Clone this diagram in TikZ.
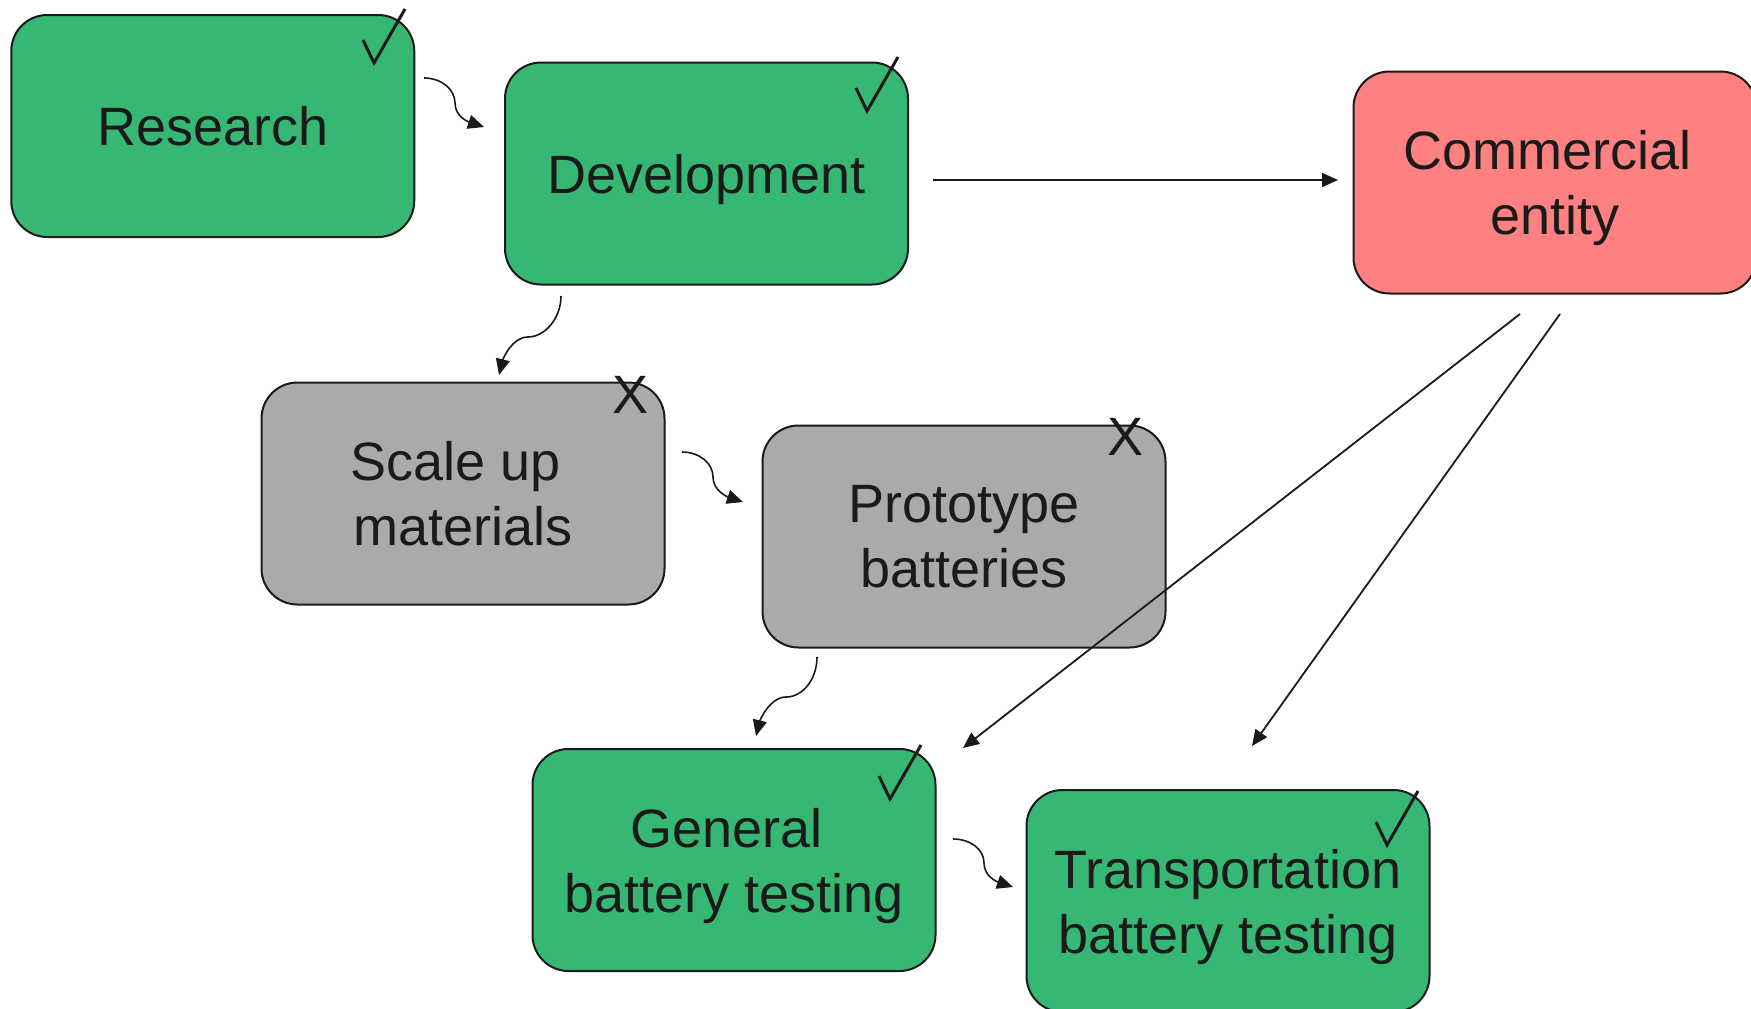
\documentclass[tikz,border=0pt]{standalone}
\usepackage{fontspec}
\setmainfont{Liberation Sans}
\usetikzlibrary{arrows.meta,calc}
\definecolor{boxgreen}{RGB}{54,184,116}
\definecolor{boxred}{RGB}{255,128,128}
\definecolor{boxgray}{RGB}{170,170,170}
\definecolor{inkc}{RGB}{26,26,26}
\newcommand\boxlines[1]{\vbox{\halign{\hfil##\hfil\cr#1\crcr}}}
\begin{document}
\begin{tikzpicture}[x=1pt,y=-1pt,
  stagebox/.style={draw=inkc, line width=2pt, rounded corners=36pt,
    minimum width=403pt, minimum height=222pt, inner sep=0pt, text=inkc,
    font=\fontsize{54}{65}\selectfont, text depth=0pt},
  donebox/.style={stagebox, fill=boxgreen},
  droppedbox/.style={stagebox, fill=boxgray},
  goalbox/.style={stagebox, fill=boxred},
  arrowline/.style={draw=inkc, line width=1.8pt, -{Triangle[length=16pt,width=14pt]}},
  wavyline/.style={arrowline, line width=1.6pt},
  crossmark/.style={text=inkc, inner sep=0pt, anchor=base, font=\fontsize{54}{65}\selectfont},
  checkmark/.pic={\draw[draw=inkc, line width=3pt, line join=miter] (0,0) -- (11,23) -- (42,-31);}
]
\useasboundingbox (0,0) rectangle (1751,1009);
\fill[white] (0,0) rectangle (1751,1009);

% boxes
\node[donebox] (research) at (212.75,126) {Research};
\node[donebox] (development) at (706.5,173.5) {Development};
\node[goalbox] (commercial) at (1555,182.5) {\boxlines{Commercial\ \cr entity}};
\node[droppedbox] (scaleup) at (463,493.5) {\boxlines{Scale up\ \cr materials}};
\node[droppedbox] (prototype) at (964,536.5) {\boxlines{Prototype\cr batteries}};
\node[donebox] (general) at (734,860) {\boxlines{General\ \cr battery testing}};
\node[donebox] (transport) at (1228,901) {\boxlines{Transportation\cr battery testing}};

% status marks
\pic at (363,40) {checkmark};
\pic at (856,88) {checkmark};
\pic at (879,776) {checkmark};
\pic at (1376,822) {checkmark};
\node[crossmark] (xscale) at (630.5,413) {X};
\node[crossmark] (xproto) at (1125.5,455) {X};

% connector end points
\coordinate (h1) at (933,180);   \coordinate (h2) at (1338,180);
\coordinate (d1s) at (1520,314); \coordinate (d1e) at (963,748);
\coordinate (d2s) at (1560,314); \coordinate (d2e) at (1252,746);
\coordinate (a1s) at (424,78);   \coordinate (a1m) at (455,103); \coordinate (a1e) at (484,127);
\coordinate (a3s) at (682,452);  \coordinate (a3m) at (713,477); \coordinate (a3e) at (743,502);
\coordinate (a5s) at (953,839);  \coordinate (a5m) at (984,863); \coordinate (a5e) at (1013,887);
\coordinate (a2s) at (561,296);  \coordinate (a2m) at (528,337); \coordinate (a2e) at (499,375);
\coordinate (a4s) at (817,657);  \coordinate (a4m) at (786,697); \coordinate (a4e) at (756,736);

% straight connectors
\draw[arrowline] (h1) -- (h2);
\draw[arrowline] (d1s) -- (d1e);
\draw[arrowline] (d2s) -- (d2e);

% curved connectors (east-going)
\draw[wavyline] (a1s) .. controls +(17,0) and +(0,-14) .. (a1m) .. controls +(0,14) and +(-15,-5) .. (a1e);
\draw[wavyline] (a3s) .. controls +(17,0) and +(0,-14) .. (a3m) .. controls +(0,14) and +(-15,-5) .. (a3e);
\draw[wavyline] (a5s) .. controls +(17,0) and +(0,-14) .. (a5m) .. controls +(0,14) and +(-15,-5) .. (a5e);
% curved connectors (south-going)
\draw[wavyline] (a2s) .. controls +(0,22) and +(17,0) .. (a2m) .. controls +(-16,0) and +(4,-16) .. (a2e);
\draw[wavyline] (a4s) .. controls +(0,22) and +(17,0) .. (a4m) .. controls +(-16,0) and +(4,-16) .. (a4e);
\end{tikzpicture}
\end{document}
